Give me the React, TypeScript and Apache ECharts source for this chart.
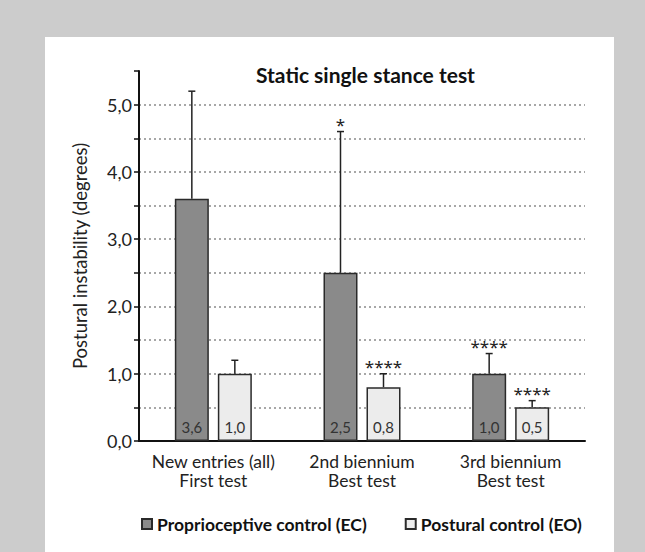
import React, { useEffect, useRef } from "react";
import * as echarts from "echarts";

const categories = ["New entries (all)\nFirst test", "2nd biennium\nBest test", "3rd biennium\nBest test"];
const ecValues = [3.6, 2.5, 1.0];
const eoValues = [1.0, 0.8, 0.5];
const ecUpper = [5.2, 4.6, 1.3];
const eoUpper = [1.2, 1.0, 0.6];
const ecStars = ["", "*", "****"];
const eoStars = ["", "****", "****"];
const seriesNames = ["Proprioceptive control (EC)", "Postural control (EO)"];

const FONT = "Lato, 'Open Sans', sans-serif";
const BAR_W = 34;
const GAP = 9;
const OFFSET = (BAR_W + GAP) / 2;

const fmt = (v: number) => v.toFixed(1).replace(".", ",");

function errSeries(values: number[], upper: number[], stars: string[], dir: number) {
  return {
    type: "custom",
    z: 5,
    silent: true,
    data: values.map((v, i) => [i, v, upper[i]]),
    renderItem: (params: any, api: any) => {
      const i = api.value(0);
      const p0 = api.coord([i, api.value(1)]);
      const p1 = api.coord([i, api.value(2)]);
      const x = p0[0] + dir * OFFSET;
      const children: any[] = [
        { type: "line", shape: { x1: x, y1: p0[1], x2: x, y2: p1[1] }, style: { stroke: "#222", lineWidth: 1.5 } },
        { type: "line", shape: { x1: x - 3.5, y1: p1[1], x2: x + 3.5, y2: p1[1] }, style: { stroke: "#222", lineWidth: 1.5 } },
      ];
      const s = stars[params.dataIndex];
      if (s) {
        children.push({
          type: "text",
          style: {
            text: s,
            x,
            y: p1[1] + 1,
            align: "center",
            verticalAlign: "bottom",
            font: `17px 'Noto Sans', sans-serif`,
            fill: "#222",
          },
        });
      }
      return { type: "group", children };
    },
  };
}

export default function App() {
  const ref = useRef<HTMLDivElement>(null);
  useEffect(() => {
    const chart = echarts.init(ref.current!, null, { renderer: "svg" });
    const barLabel = {
      show: true,
      position: "insideBottom",
      distance: 7,
      formatter: (p: any) => fmt(p.value),
      fontSize: 15,
      fontFamily: FONT,
      color: "#333",
    };
    chart.setOption({
      animation: false,
      backgroundColor: "transparent",
      textStyle: { fontFamily: FONT },
      title: {
        text: "Static single stance test",
        left: 256,
        top: 64,
        padding: 0,
        textStyle: { fontSize: 21, fontWeight: "bold", color: "#111", fontFamily: FONT },
      },
      legend: {
        left: 136,
        top: 510,
        itemWidth: 10,
        itemHeight: 10,
        itemGap: 38,
        icon: "rect",
        textStyle: { fontSize: 17.5, fontWeight: "bold", color: "#111", fontFamily: FONT },
        data: seriesNames,
      },
      grid: { left: 139, right: 60, top: 71, bottom: 111, containLabel: false },
      xAxis: {
        type: "category",
        data: categories,
        axisLine: { lineStyle: { color: "#111", width: 2 } },
        axisTick: { show: false },
        axisLabel: { interval: 0, fontSize: 17.5, lineHeight: 19, color: "#222", margin: 11, fontFamily: FONT },
      },
      yAxis: {
        type: "value",
        min: 0,
        max: 5.5,
        interval: 0.5,
        name: "Postural instability (degrees)",
        nameLocation: "middle",
        nameGap: 50,
        nameTextStyle: { fontSize: 18.5, color: "#222", fontFamily: FONT },
        axisLine: { show: true, lineStyle: { color: "#111", width: 2 } },
        axisTick: { show: true, length: 5, lineStyle: { color: "#111", width: 1.5 } },
        axisLabel: {
          fontSize: 18,
          color: "#222",
          margin: 7,
          fontFamily: FONT,
          formatter: (v: number) => (Math.abs(v - Math.round(v)) < 1e-9 ? fmt(v) : ""),
        },
        splitLine: {
          show: true,
          showMinLine: false,
          showMaxLine: false,
          lineStyle: { color: "#8a8a8a", type: [2, 3], width: 1.5 },
        },
      },
      series: [
        {
          name: seriesNames[0],
          type: "bar",
          data: ecValues,
          barWidth: BAR_W,
          barGap: `${(GAP / BAR_W) * 100}%`,
          itemStyle: { color: "#8a8a8a", borderColor: "#2a2a2a", borderWidth: 1.5 },
          label: barLabel,
        },
        {
          name: seriesNames[1],
          type: "bar",
          data: eoValues,
          barWidth: BAR_W,
          itemStyle: { color: "#ececec", borderColor: "#2a2a2a", borderWidth: 1.5 },
          label: barLabel,
        },
        errSeries(ecValues, ecUpper, ecStars, -1),
        errSeries(eoValues, eoUpper, eoStars, 1),
      ],
    });
    return () => chart.dispose();
  }, []);
  return (
    <div style={{ position: "fixed", left: 0, top: 0, width: 645, height: 552, background: "#cccccc" }}>
      <div style={{ position: "absolute", left: 45, top: 37, width: 569, height: 515, background: "#ffffff" }} />
      <div ref={ref} style={{ position: "absolute", left: 0, top: 0, width: 645, height: 552 }} />
    </div>
  );
}
